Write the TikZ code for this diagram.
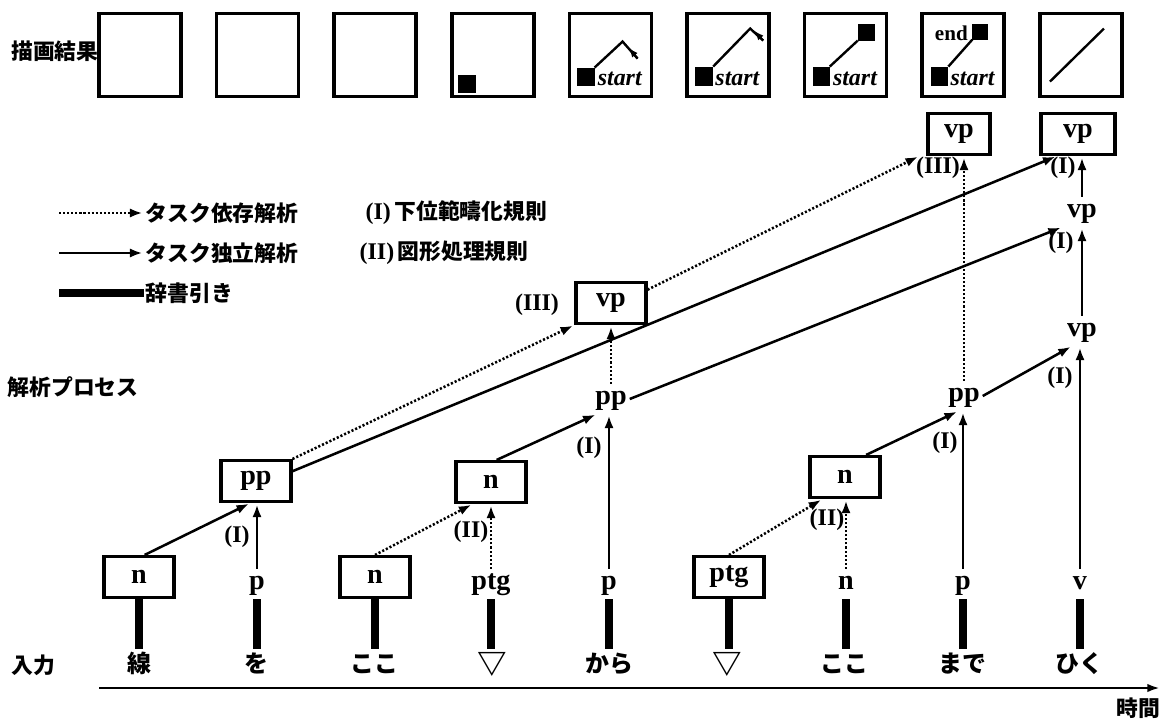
\documentclass[tikz,border=0pt]{standalone}
\usepackage{fontspec}
\setmainfont{Liberation Serif}
\newfontfamily\jp{Noto Sans CJK JP}
\usepackage{tikz}
\usetikzlibrary{arrows.meta}

\newcommand\catfont{\bfseries\fontsize{20}{22}\selectfont}
\newcommand\rulefont{\bfseries\fontsize{17}{19}\selectfont}
\newcommand\jpfont{\jp\bfseries\fontsize{15.5}{18}\selectfont}
\newcommand\wordfont{\jp\bfseries\fontsize{17}{20}\selectfont}
\newcommand\tri{\raisebox{-1pt}{\fontsize{21}{21}\selectfont ▽}}

\tikzset{
  resbox/.style={draw, line width=2.6pt, minimum width=2.05cm, minimum height=2.08cm, inner sep=0pt},
  catbox/.style={draw, line width=2.2pt, minimum width=1.75cm, minimum height=1.025cm, inner sep=1pt, font=\catfont},
  cat/.style={inner sep=2pt, text height=12.5pt, text depth=4.5pt, font=\catfont},
  word/.style={inner sep=3pt, text height=14pt, text depth=3pt, font=\wordfont},
  jplab/.style={inner sep=1pt, font=\jpfont},
  rulelab/.style={inner sep=1pt, font=\rulefont},
  indep/.style={line width=1.8pt, -{Latex[length=9pt,width=6.5pt]}, shorten >=1pt},
  dep/.style={indep, dash pattern=on 1.5pt off 1.4pt},
  lookup/.style={line width=5pt},
  penline/.style={line width=1.7pt},
  pentip/.style={line width=1.4pt, -{Latex[length=7pt,width=5pt]}},
  startlab/.style={inner sep=0pt, font=\bfseries\itshape\fontsize{17}{17}\selectfont},
  endlab/.style={inner sep=0pt, font=\bfseries\fontsize{15}{15}\selectfont},
}

\begin{document}
\begin{tikzpicture}[x=0.025cm, y=-0.025cm]
\useasboundingbox (0,0) rectangle (1164,722);

% drawing results
\node[jplab] (drawlab) at (55,51) {描画結果};
\foreach \i in {0,...,8}
  \node[resbox] (r\i) at ({140+117.6*\i},55) {};

\begin{scope}[shift={(r3.north west)}]
  \fill (8,63) rectangle (26,81);
\end{scope}
\begin{scope}[shift={(r4.north west)}]
  \fill (9,56) rectangle (27,74);
  \node[startlab, anchor=west] (st4) at (30,67) {start};
  \draw[penline] (27,56) -- (55,30) -- (70,47);
  \draw[pentip] (70,47) -- (61,36);
\end{scope}
\begin{scope}[shift={(r5.north west)}]
  \fill (10,55) rectangle (28,74);
  \node[startlab, anchor=west] (st5) at (30,67) {start};
  \draw[penline] (28,55) -- (65,17) -- (78,29);
  \draw[pentip] (78,29) -- (69,19);
\end{scope}
\begin{scope}[shift={(r6.north west)}]
  \fill (10,55) rectangle (27,74);
  \fill (55,12) rectangle (72,29);
  \node[startlab, anchor=west] (st6) at (30,67) {start};
  \draw[penline] (27,55) -- (55,29);
\end{scope}
\begin{scope}[shift={(r7.north west)}]
  \fill (11,55) rectangle (28,74);
  \fill (52,12) rectangle (68,28);
  \node[startlab, anchor=west] (st7) at (30,67) {start};
  \node[endlab] (en7) at (31,22) {end};
  \draw[penline] (28,55) -- (52,28);
\end{scope}
\begin{scope}[shift={(r8.north west)}]
  \draw[penline] (12,70) -- (66,17);
\end{scope}

% legend
\coordinate (ld) at (59,213);
\coordinate (li) at (59,253);
\coordinate (lk) at (59,293);
\node[jplab, anchor=west] (lgdep) at (144,213) {タスク依存解析};
\node[jplab, anchor=west] (lgind) at (144,253) {タスク独立解析};
\node[jplab, anchor=west] (lgdic) at (144,293) {辞書引き};
\draw[dep] (ld) -- (lgdep.west);
\draw[indep] (li) -- (lgind.west);
\draw[lookup] (lk) -- (lgdic.west);
\node[anchor=west, inner sep=1pt] (lgr1) at (364,213) {{\rulefont (I)} {\jpfont 下位範疇化規則}};
\node[anchor=west, inner sep=1pt] (lgr2) at (358,253) {{\rulefont (II)} {\jpfont 図形処理規則}};

\node[jplab] (proclab) at (73,387) {解析プロセス};
\node[jplab] (inlab) at (33,665) {入力};
\node[jplab] (timelab) at (1138,708) {時間};

% input words and categories
\foreach \w [count=\i from 0] in {線,を,ここ,\tri,から,\tri,ここ,まで,ひく}
  \node[word] (w\i) at ({139+117.6*\i},665) {\w};

\node[catbox] (n0) at (139,577) {n};
\node[cat] (p1) at (257,584) {p};
\node[catbox] (n2) at (375,577) {n};
\node[cat] (ptg3) at (491,584) {ptg};
\node[cat] (p4) at (609,584) {p};
\node[catbox] (ptg5) at (729,577) {ptg};
\node[cat] (n6) at (846,584) {n};
\node[cat] (p7) at (963,584) {p};
\node[cat] (v8) at (1080,584) {v};

\foreach \c [count=\i from 0] in {n0,p1,n2,ptg3,p4,ptg5,n6,p7,v8}
  \draw[lookup] (\c.south) -- (\c.south |- w\i.north);

% parse process
\node[catbox] (pp1) at (256,481) {pp};
\node[catbox] (n3) at (491,482) {n};
\node[catbox] (n6b) at (845,477) {n};
\node[cat] (pp4) at (611,399) {pp};
\node[cat] (pp7) at (964,396) {pp};
\node[cat] (vp8a) at (1082,331) {vp};
\node[catbox] (vp4) at (611,303) {vp};
\node[cat] (vp8b) at (1082,212) {vp};
\node[catbox, minimum width=1.55cm] (vp7) at (959,134) {vp};
\node[catbox, minimum width=1.85cm] (vp8c) at (1078,134) {vp};

\draw[indep] ([xshift=4pt]n0.north) -- ([xshift=-4pt]pp1.south);
\draw[indep] (p1.north) -- (p1.north |- pp1.south);
\draw[dep] (n2.north) -- ([xshift=-13pt]n3.south);
\draw[dep] (ptg3.north) -- (ptg3.north |- n3.south);
\draw[indep] ([xshift=4pt]n3.north) -- ([xshift=-10pt]pp4.south);
\draw[indep] (p4.north) -- (p4.north |- pp4.south);
\draw[dep] (pp1.north east) -- (vp4.south west);
\draw[indep] (pp1.15) -- ([xshift=-15pt]vp8c.south);
\draw[dep] (pp4.north) -- (pp4.north |- vp4.south);
\draw[dep] (vp4.20) -- ([xshift=-5pt]vp7.south west);
\draw[indep] (pp4.east) -- ([xshift=-14pt]vp8b.south);
\draw[dep] (ptg5.north) -- ([xshift=-16pt]n6b.south);
\draw[dep] (n6.north) -- (n6.north |- n6b.south);
\draw[indep] ([xshift=15pt]n6b.north) -- ([xshift=-4pt]pp7.south);
\draw[indep] (p7.north) -- (p7.north |- pp7.south);
\draw[dep] (pp7.north) -- (pp7.north |- vp7.south);
\draw[indep] (pp7.east) -- ([xshift=-7pt]vp8a.south);
\draw[indep] (v8.north) -- (v8.north |- vp8a.south);
\draw[indep] (vp8a.north) -- (vp8b.south);
\draw[indep] (vp8b.north) -- (vp8b.north |- vp8c.south);

% rule labels
\node[rulelab] (q1) at (237,537) {(I)};
\node[rulelab] (q2) at (471,532) {(II)};
\node[rulelab] (q3) at (589,448) {(I)};
\node[rulelab] (q4) at (537,305) {(III)};
\node[rulelab] (q5) at (827,520) {(II)};
\node[rulelab] (q6) at (945,443) {(I)};
\node[rulelab] (q7) at (938,168) {(III)};
\node[rulelab] (q8) at (1060,378) {(I)};
\node[rulelab] (q9) at (1061,243) {(I)};
\node[rulelab] (q10) at (1063,168) {(I)};

% time axis
\coordinate (t0) at (99,688);
\coordinate (t1) at (1160,688);
\draw[line width=2pt, -{Latex[length=9pt,width=6pt]}] (t0) -- (t1);
\end{tikzpicture}
\end{document}
